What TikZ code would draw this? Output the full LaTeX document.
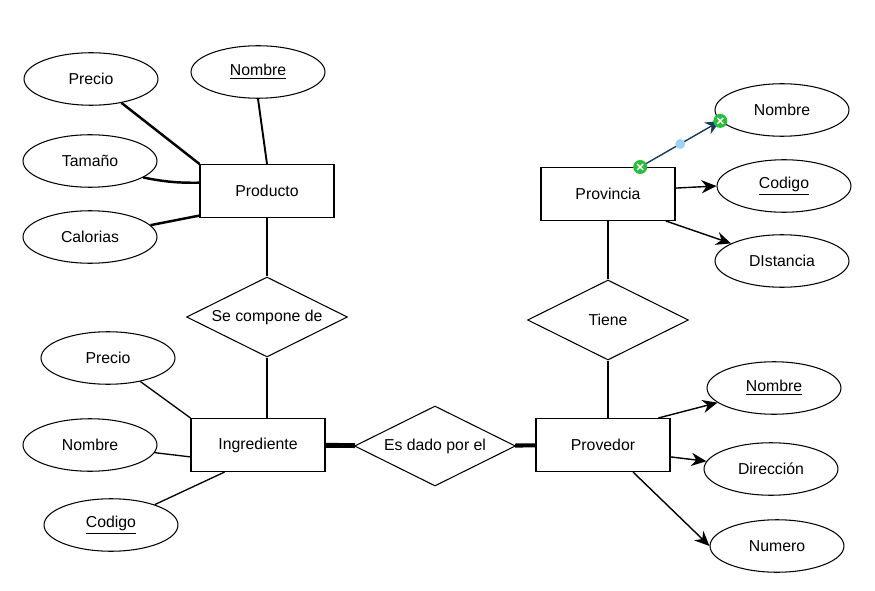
\documentclass[tikz,border=0pt]{standalone}
\usepackage{fontspec}
\setmainfont{Liberation Sans}
\usetikzlibrary{arrows.meta,shapes.geometric}

\begin{document}
\begin{tikzpicture}[x=0.02cm,y=-0.02cm,>={Stealth[length=8.5pt,width=7.5pt]},
        font=\fontsize{9}{11}\selectfont,
        attr/.style={ellipse,draw,line width=0.6pt,minimum width=2.68cm,minimum height=1.05cm,inner sep=0pt},
        entity/.style={rectangle,draw,line width=0.6pt,minimum width=2.68cm,minimum height=1.06cm},
        rel/.style={diamond,aspect=2,draw,line width=0.6pt,minimum width=3.22cm,minimum height=1.6cm,inner sep=0pt},
        handle/.style={circle,fill={rgb,255:red,40;green,190;blue,60},minimum size=0.28cm,inner sep=0pt,
          path picture={\draw[white,line width=0.8pt]
            ([shift={(-0.06cm,-0.06cm)}]path picture bounding box.center) -- ++(0.12cm,0.12cm)
            ([shift={(-0.06cm,0.06cm)}]path picture bounding box.center) -- ++(0.12cm,-0.12cm);}},
        middot/.style={circle,fill={rgb,255:red,160;green,210;blue,240},minimum size=0.2cm,inner sep=0pt}]

  \useasboundingbox (0,0) rectangle (875,591);

  % Producto
  \node[attr] (precio_p) at (91,79) {Precio};
  \node[attr] (nombre_p) at (258,72) {\underline{Nombre}};
  \node[attr] (tamano_p) at (90,161) {Tamaño};
  \node[attr] (calorias_p) at (90,237) {Calorias};
  \node[entity] (producto) at (267,191) {Producto};
  \node[rel] (compone) at (267,317) {Se compone de};

  % Ingrediente
  \node[entity] (ingrediente) at (258,445) {Ingrediente};
  \node[attr] (precio_i) at (108,358) {Precio};
  \node[attr] (nombre_i) at (90,445) {Nombre};
  \node[attr] (codigo_i) at (111,525) {\underline{Codigo}};
  \node[rel] (dado) at (435,446) {Es dado por el};

  % Provedor
  \node[entity] (provedor) at (603,445) {Provedor};
  \node[attr] (nombre_pr) at (774,388) {\underline{Nombre}};
  \node[attr] (direccion_pr) at (771,469) {Dirección};
  \node[attr] (numero_pr) at (777,546) {Numero};
  \node[rel] (tiene) at (608,320) {Tiene};

  % Provincia
  \node[entity] (provincia) at (608,194) {Provincia};
  \node[attr] (nombre_pv) at (782,110) {Nombre};
  \node[attr] (codigo_pv) at (784,186) {\underline{Codigo}};
  \node[attr] (distancia_pv) at (782,261) {DIstancia};

  \path[line width=1.4pt]
        (precio_p) edge (producto.north west)
        (tamano_p) edge [bend right=6] (producto.173)
        (calorias_p) edge (producto.200)
        (nombre_p.south) edge [line width=1.1pt] (producto.north)
        (producto.south) edge [line width=1.2pt] (compone.north)
        (compone.south) edge [line width=1.2pt] (compone.south |- ingrediente.north);

  \path[line width=0.75pt]
        (precio_i) edge (ingrediente.north west)
        (nombre_i) edge (ingrediente.190)
        (codigo_i) edge (ingrediente.-141);

  \path (ingrediente) edge [line width=2.8pt] (dado)
        (dado) edge [line width=2.3pt] (provedor)
        (tiene.south) edge [line width=1.1pt] (tiene.south |- provedor.north)
        (tiene.north) edge [line width=1.1pt] (provincia.south);

  \path[->,line width=0.8pt]
        (provedor.26) edge (nombre_pr)
        (provedor.-10) edge (direccion_pr)
        (provedor.-42) edge (numero_pr.west)
        (provincia.5) edge (codigo_pv.west)
        (provincia.-25) edge (distancia_pv)
        (provincia.40) edge [draw={rgb,255:red,25;green,60;blue,90}] node[middot] {} (nombre_pv.190);

  \node[handle] (h_start) at (provincia.40) {};
  \node[handle] (h_end) at (nombre_pv.190) {};

\end{tikzpicture}
\end{document}
